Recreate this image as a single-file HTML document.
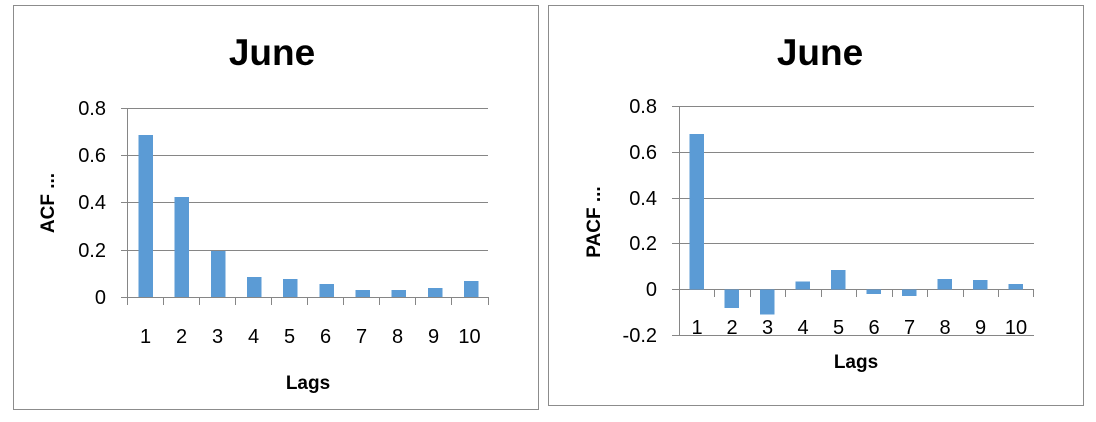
<!DOCTYPE html>
<html><head><style>
body{margin:0;background:#fff;}
text{font-family:"Liberation Sans",sans-serif;fill:#000;}
</style></head><body>
<svg width="1096" height="417" xmlns="http://www.w3.org/2000/svg">
<rect x="13.5" y="5.5" width="525" height="404" fill="#fff" stroke="#8c8c8c"/>
<rect x="548.5" y="5.5" width="535" height="400" fill="#fff" stroke="#8c8c8c"/>
<!-- left chart -->
<g stroke="#868686" stroke-width="1">
<line x1="121" y1="108.5" x2="488" y2="108.5"/>
<line x1="121" y1="155.5" x2="488" y2="155.5"/>
<line x1="121" y1="202.5" x2="488" y2="202.5"/>
<line x1="121" y1="250.5" x2="488" y2="250.5"/>
<line x1="121" y1="297.5" x2="488" y2="297.5"/>
<line x1="127.5" y1="108" x2="127.5" y2="305"/>
<line x1="163.5" y1="297" x2="163.5" y2="305"/><line x1="199.5" y1="297" x2="199.5" y2="305"/><line x1="235.5" y1="297" x2="235.5" y2="305"/><line x1="271.5" y1="297" x2="271.5" y2="305"/><line x1="307.5" y1="297" x2="307.5" y2="305"/><line x1="343.5" y1="297" x2="343.5" y2="305"/><line x1="379.5" y1="297" x2="379.5" y2="305"/><line x1="415.5" y1="297" x2="415.5" y2="305"/><line x1="451.5" y1="297" x2="451.5" y2="305"/><line x1="488.5" y1="297" x2="488.5" y2="305"/>
</g>
<g fill="#5b9bd5">
<rect x="138.5" y="135" width="14.5" height="162"/>
<rect x="174.5" y="197" width="14.5" height="100"/>
<rect x="211" y="251" width="14.5" height="46"/>
<rect x="247" y="277" width="14.5" height="20"/>
<rect x="283" y="279" width="14.5" height="18"/>
<rect x="319.5" y="284" width="14.5" height="13"/>
<rect x="355.5" y="290" width="14.5" height="7"/>
<rect x="391.5" y="290" width="14.5" height="7"/>
<rect x="428" y="288" width="14.5" height="9"/>
<rect x="464" y="281" width="14.5" height="16"/>
</g>
<g font-size="20" text-anchor="end">
<text x="106" y="115">0.8</text><text x="106" y="162">0.6</text><text x="106" y="209">0.4</text><text x="106" y="257">0.2</text><text x="106" y="304">0</text>
</g>
<g font-size="20" text-anchor="middle">
<text x="145.5" y="343">1</text><text x="181.5" y="343">2</text><text x="217.5" y="343">3</text><text x="253.5" y="343">4</text><text x="289.5" y="343">5</text><text x="325.5" y="343">6</text><text x="361.5" y="343">7</text><text x="397.5" y="343">8</text><text x="433.5" y="343">9</text><text x="469.5" y="343">10</text>
</g>
<text x="308" y="389" font-size="19" font-weight="bold" text-anchor="middle">Lags</text>
<text transform="translate(54,203) rotate(-90)" font-size="19" font-weight="bold" text-anchor="middle">ACF ...</text>
<text x="272" y="65" font-size="37" font-weight="bold" text-anchor="middle">June</text>
<!-- right chart -->
<g stroke="#868686" stroke-width="1">
<line x1="672" y1="106.5" x2="1034" y2="106.5"/>
<line x1="672" y1="152.5" x2="1034" y2="152.5"/>
<line x1="672" y1="198.5" x2="1034" y2="198.5"/>
<line x1="672" y1="243.5" x2="1034" y2="243.5"/>
<line x1="672" y1="289.5" x2="1034" y2="289.5"/>
<line x1="672" y1="335.5" x2="1034" y2="335.5"/>
<line x1="679.5" y1="106" x2="679.5" y2="335"/>
<line x1="714.5" y1="289" x2="714.5" y2="297"/><line x1="750.5" y1="289" x2="750.5" y2="297"/><line x1="785.5" y1="289" x2="785.5" y2="297"/><line x1="821.5" y1="289" x2="821.5" y2="297"/><line x1="856.5" y1="289" x2="856.5" y2="297"/><line x1="892.5" y1="289" x2="892.5" y2="297"/><line x1="927.5" y1="289" x2="927.5" y2="297"/><line x1="963.5" y1="289" x2="963.5" y2="297"/><line x1="998.5" y1="289" x2="998.5" y2="297"/><line x1="1033.5" y1="289" x2="1033.5" y2="297"/>
</g>
<g fill="#5b9bd5">
<rect x="689.5" y="134" width="14.5" height="155.5"/>
<rect x="724.5" y="289.5" width="14.5" height="18.5"/>
<rect x="760" y="289.5" width="14.5" height="25"/>
<rect x="795.5" y="281.5" width="14.5" height="8"/>
<rect x="831" y="270" width="14.5" height="19.5"/>
<rect x="866.5" y="289.5" width="14.5" height="4.5"/>
<rect x="902" y="289.5" width="14.5" height="6.5"/>
<rect x="937.5" y="279" width="14.5" height="10.5"/>
<rect x="973" y="280" width="14.5" height="9.5"/>
<rect x="1008.5" y="284" width="14.5" height="5.5"/>
</g>
<g font-size="20" text-anchor="end">
<text x="657" y="113">0.8</text><text x="657" y="159">0.6</text><text x="657" y="205">0.4</text><text x="657" y="250">0.2</text><text x="657" y="296">0</text><text x="657" y="342">-0.2</text>
</g>
<g font-size="20" text-anchor="middle">
<text x="697" y="334">1</text><text x="732" y="334">2</text><text x="767.5" y="334">3</text><text x="803" y="334">4</text><text x="838.5" y="334">5</text><text x="874" y="334">6</text><text x="909.5" y="334">7</text><text x="945" y="334">8</text><text x="980.5" y="334">9</text><text x="1016" y="334">10</text>
</g>
<text x="856" y="368" font-size="19" font-weight="bold" text-anchor="middle">Lags</text>
<text transform="translate(600,222) rotate(-90)" font-size="19" font-weight="bold" text-anchor="middle">PACF ...</text>
<text x="820" y="65" font-size="37" font-weight="bold" text-anchor="middle">June</text>
</svg>
</body></html>
